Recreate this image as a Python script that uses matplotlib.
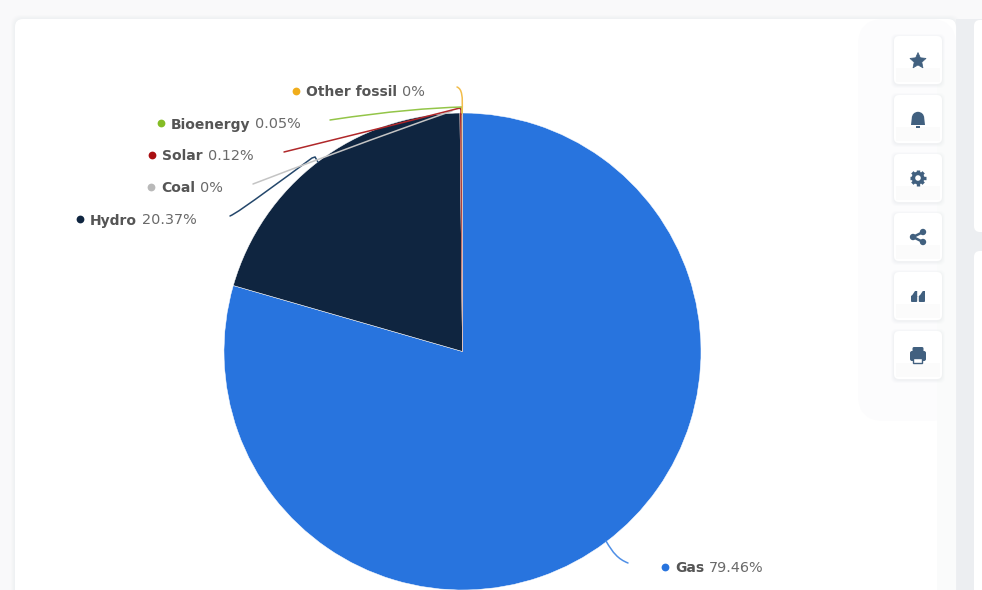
import matplotlib
matplotlib.use("Agg")
import numpy as np
import matplotlib.pyplot as plt
from matplotlib.patches import FancyBboxPatch, PathPatch, Rectangle, Circle, Polygon, Wedge
from matplotlib.path import Path

# data
categories = ["Gas", "Hydro", "Coal", "Solar", "Bioenergy", "Other fossil"]
shares = [79.46, 20.37, 0, 0.12, 0.05, 0]
share_labels = ["79.46%", "20.37%", "0%", "0.12%", "0.05%", "0%"]
colors = ["#2874de", "#0f2540", "#b9b9b9", "#a90f12", "#84bc25", "#f0ad1c"]

# layout in screen pixels (y counted from the top)
W, H = 982, 590
PIE_X, PIE_Y, PIE_R = 462.5, 351.5, 238.5
dot_x = [665, 80, 151, 152, 161, 296]
label_x = [675, 90, 161, 162, 171, 306]
label_y = [566.5, 219, 187, 155, 123, 91]
leaders = {
    "Gas": [(606, 541), (613, 553), (618, 559), (628, 563)],
    "Hydro": [(230, 216), (236, 213), (240, 211), (312, 158), (315, 157), (318, 162)],
    "Coal": [(253, 184), (300, 166), (380, 136), (452, 111)],
    "Solar": [(284, 152), (350, 136), (420, 118), (460, 108), (461, 110), (461, 114)],
    "Bioenergy": [(330, 120), (390, 111), (430, 108), (462, 107), (462, 110), (462, 113)],
    "Other fossil": [(457, 87), (462, 89), (463, 96), (462, 113)],
}
leader_colors = ["#4f8fe6", "#24476b", "#c4c4c4", "#b0282a", "#93c548", "#f2bd4b"]
button_y = [36, 95, 154, 213, 272, 331]


def py(y):
    return H - y


fig = plt.figure(figsize=(W / 100, H / 100), dpi=100, facecolor="#f9f9fa")
ax = fig.add_axes([0, 0, 1, 1])


def rounded(x, y, w, h, r, color, z, **kw):
    p = FancyBboxPatch((x + r, py(y + h) + r), w - 2 * r, h - 2 * r,
                       boxstyle=f"round,pad={r},rounding_size={r}",
                       fc=color, ec="none", zorder=z, **kw)
    ax.add_patch(p)


# pie first, it resets the limits
wedges, _ = ax.pie(shares, colors=colors, startangle=90, counterclock=False,
                   center=(PIE_X, py(PIE_Y)), radius=PIE_R,
                   wedgeprops={"linewidth": 0.35, "edgecolor": "#ffffff", "zorder": 3})
wedges[3].set_edgecolor("#b8736f")
wedges[4].set_edgecolor("#b8736f")
ax.set_xlim(0, W)
ax.set_ylim(0, H)
ax.set_aspect("auto")
ax.axis("off")

# page background, gutter and cards
ax.add_patch(Rectangle((956, 0), 26, H - 19, fc="#eceef1", ec="none", zorder=0))
for i, a in zip(range(4, 0, -1), [0.15, 0.25, 0.4, 0.6]):
    rounded(15 - i, 19 - i, 941 + 2 * i, 600, 10, "#eef0f3", 0.5, alpha=a)
rounded(15, 19, 941, 600, 8, "#ffffff", 1)
rounded(974, 20, 40, 212, 6, "#ffffff", 1)
rounded(974, 251, 40, 400, 6, "#ffffff", 1)

# side panel halo behind the buttons
rounded(858, 19, 98, 402, 26, "#fcfcfd", 1.2)
ax.add_patch(Rectangle((937, 0), 19, H - 60, fc="#fafbfb", ec="none", zorder=1.2))

ICON = "#41607f"
for y in button_y:
    for i, a in zip([3, 2, 1], [0.12, 0.2, 0.3]):
        rounded(894 - i, y - i + 1, 48 + 2 * i, 48 + 2 * i, 6, "#e9ebee", 1.5, alpha=a)
    rounded(894, y, 48, 48, 5, "#ffffff", 2)
    ax.add_patch(Rectangle((896, py(y + 46)), 44, 14, fc="#fbfbfb", ec="none", zorder=2.1))

cx = 918
# star
ang = np.deg2rad(90 + 36 * np.arange(10))
rad = np.where(np.arange(10) % 2 == 0, 8.5, 4)
ax.add_patch(Polygon(np.c_[cx + rad * np.cos(ang), py(61) + rad * np.sin(ang)],
                     fc=ICON, ec=ICON, lw=0.5, zorder=4))
# bell
ax.add_patch(Wedge((cx, py(118)), 6.2, 0, 180, fc=ICON, ec="none", zorder=4))
ax.add_patch(Polygon([(cx - 6.2, py(118)), (cx + 6.2, py(118)), (cx + 7, py(125)), (cx - 7, py(125))],
                     fc=ICON, ec="none", zorder=4))
ax.add_patch(Rectangle((cx - 2, py(127.5)), 4, 2, fc=ICON, ec="none", zorder=4))
# gear
for a in np.arange(0, 180, 45):
    dx, dy = 8 * np.cos(np.deg2rad(a)), 8 * np.sin(np.deg2rad(a))
    ax.plot([cx - dx, cx + dx], [py(178) - dy, py(178) + dy], color=ICON, lw=2.4,
            solid_capstyle="butt", zorder=4)
ax.add_patch(Circle((cx, py(178)), 6.4, fc=ICON, ec="none", zorder=4))
ax.add_patch(Circle((cx, py(178)), 2.8, fc="#ffffff", ec="none", zorder=5))
# share
share_pts = [(cx + 5, py(232)), (cx - 5, py(237)), (cx + 5, py(242))]
ax.plot([p[0] for p in share_pts], [p[1] for p in share_pts], color=ICON, lw=1.8, zorder=4)
for p in share_pts:
    ax.add_patch(Circle(p, 3.2, fc=ICON, ec="none", zorder=4))
# quotes
for qx in [cx - 7, cx + 0.8]:
    rounded(qx, 295.5, 6.2, 6.5, 1, ICON, 4)
    ax.add_patch(Polygon([(qx, py(297)), (qx + 4, py(291)), (qx + 6.2, py(291)), (qx + 6.2, py(297))],
                         fc=ICON, ec="none", zorder=4))
# printer
rounded(cx - 8, 351, 16, 10, 2, ICON, 4)
rounded(cx - 5.5, 347, 11, 6, 1.5, ICON, 4)
ax.add_patch(Rectangle((cx - 4.5, py(363)), 9, 5, fc="#ffffff", ec=ICON, lw=1, zorder=5))

# leader lines
for name, lc in zip(categories, leader_colors):
    pts = [(x, py(y)) for x, y in leaders[name]]
    codes = [Path.MOVETO] + [Path.CURVE4] * 3
    if len(pts) == 6:
        codes += [Path.LINETO] * 2
    ax.add_patch(PathPatch(Path(pts, codes), fc="none", ec=lc, lw=1.1, zorder=6,
                           capstyle="round"))

# data labels
renderer = fig.canvas.get_renderer()
for i, name in enumerate(categories):
    ax.plot([dot_x[i]], [py(label_y[i])], marker="o", ms=5.6, color=colors[i], mew=0, zorder=7)
    t = ax.text(label_x[i], py(label_y[i]), name, fontsize=10.0, fontweight="bold",
                color="#555555", va="center_baseline", ha="left", zorder=7,
                family="DejaVu Sans")
    end = t.get_window_extent(renderer).x1
    ax.text(end + 5, py(label_y[i]), share_labels[i], fontsize=10.4, color="#6a6a6a",
            va="center_baseline", ha="left", zorder=7, family="DejaVu Sans")

fig.savefig("out.png", dpi=100, facecolor=fig.get_facecolor())
